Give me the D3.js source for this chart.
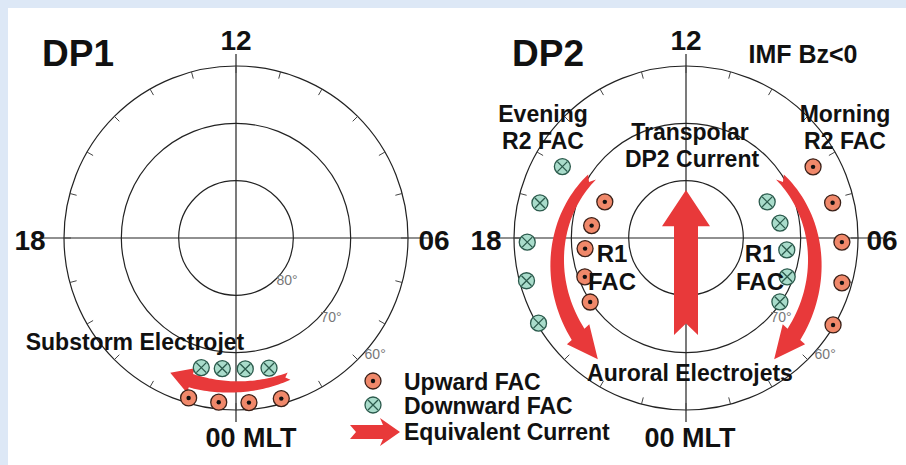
<!DOCTYPE html>
<html><head><meta charset="utf-8">
<script src="https://cdn.jsdelivr.net/npm/d3@7"></script>
<style>body{margin:0;background:#dde8f6}svg{display:block}text{font-family:"Liberation Sans",Arial,sans-serif;font-weight:bold;fill:#111}</style>
</head><body><svg id="c" width="906" height="465"></svg>
<script>
// latitude rings and MLT hours
var rings = [80, 70, 60];
var ringLabels = ["80°", "70°", "60°"];
// FAC positions as [MLT hours, latitude]
var dp1Up = [[22.9, 60.9], [23.6, 61.2], [0.3, 61.2], [1.05, 60.9]];
var dp1Down = [[23.0, 66.6], [23.6, 67.1], [0.27, 67.1], [0.95, 66.6]];
var dp2EveR2 = [[16.0, 65.1], [17.1, 63.8], [18.1, 62.3], [19.0, 61.2], [20.0, 60.3]];
var dp2EveR1 = [[16.4, 74.5], [17.5, 73.4], [18.4, 72.3], [19.4, 71.1], [20.25, 69.9]];
var dp2MorR2 = [[7.95, 64.6], [6.9, 63.7], [5.9, 62.8], [4.93, 61.7], [3.96, 60.2]];
var dp2MorR1 = [[7.6, 74.5], [6.6, 73.4], [5.55, 72.3], [4.6, 71.1], [3.72, 70.2]];

var svg = d3.select("#c");
svg.append("rect").attr("x", 8).attr("y", 8).attr("width", 898).attr("height", 457).attr("fill", "#fff");

var R = 172;
var rScale = d3.scaleLinear().domain([90, 60]).range([0, R]);
var phi = function(mlt) { return (12 - mlt) * Math.PI / 12; };
var red = "#e8393a";

function pos(cx, cy, d) {
    var r = rScale(d[1]), a = phi(d[0]);
    return [cx + r * Math.sin(a), cy - r * Math.cos(a)];
}

function dial(cx, cy, showLabels) {
    var g = svg.append("g");
    rings.forEach(function(l) {
        g.append("circle").attr("cx", cx).attr("cy", cy).attr("r", rScale(l))
         .attr("fill", "none").attr("stroke", "#222").attr("stroke-width", 1.2);
    });
    g.append("line").attr("x1", cx - R - 25).attr("x2", cx + R + 25).attr("y1", cy).attr("y2", cy).attr("stroke", "#222").attr("stroke-width", 1.2);
    g.append("line").attr("x1", cx).attr("x2", cx).attr("y1", cy - R - 12).attr("y2", cy + R + 12).attr("stroke", "#222").attr("stroke-width", 1.2);
    d3.range(24).forEach(function(h) {
        var a = phi(h);
        g.append("line")
         .attr("x1", cx + R * Math.sin(a)).attr("y1", cy - R * Math.cos(a))
         .attr("x2", cx + (R - 7) * Math.sin(a)).attr("y2", cy - (R - 7) * Math.cos(a))
         .attr("stroke", "#444").attr("stroke-width", 1);
    });
    rings.forEach(function(l, i) {
        if (!showLabels[i]) return;
        var r = rScale(l) + 9, a = phi(3.35);
        g.append("text").attr("x", cx + r * Math.sin(a)).attr("y", cy - r * Math.cos(a) + 5)
         .attr("text-anchor", "middle").attr("font-size", 14)
         .style("font-weight", "normal").style("fill", "#777").text(ringLabels[i]);
    });
}

function fac(cx, cy, data, up) {
    data.forEach(function(d) {
        var p = pos(cx, cy, d);
        var g = svg.append("g").attr("transform", "translate(" + p[0] + "," + p[1] + ")");
        g.append("circle").attr("r", 8).attr("fill", up ? "#f0886a" : "#a9dccb")
         .attr("stroke", up ? "#3a2018" : "#2b5a4c").attr("stroke-width", 1.3);
        if (up) g.append("circle").attr("r", 2.2).attr("fill", "#111");
        else g.append("path").attr("d", "M-5,-5L5,5M5,-5L-5,5").attr("stroke", "#2b5a4c").attr("stroke-width", 1.3);
    });
}

// curved arrow along an arc of varying radius, head at the end
function arcArrow(cx, cy, a0, a1, r0, r1, w, hw, hl) {
    var n = 40, inner = [], outer = [];
    var total = Math.abs(a1 - a0) * (r0 + r1) / 2;
    var aHead = a1 - (a1 - a0) * hl / total;
    function pt(a, r) { return [cx + r * Math.sin(a), cy - r * Math.cos(a)]; }
    function rad(a) { return r0 + (r1 - r0) * (a - a0) / (a1 - a0); }
    for (var i = 0; i <= n; i++) {
        var a = a0 + (aHead - a0) * i / n, r = rad(a), ww = w * (0.55 + 0.45 * i / n);
        inner.push(pt(a, r - ww / 2)); outer.push(pt(a, r + ww / 2));
    }
    var rh = rad(aHead);
    var pts = outer.concat([pt(aHead, rh + hw / 2), pt(a1, rad(a1)), pt(aHead, rh - hw / 2)])
        .concat(inner.reverse());
    pts.push(pt(a0 + (aHead - a0) * 0.04, rad(a0)));
    svg.append("path").attr("d", d3.line()(pts) + "Z").attr("fill", red);
}

function label(x, y, t, size, anchor) {
    svg.append("text").attr("x", x).attr("y", y).attr("font-size", size)
       .attr("text-anchor", anchor || "middle").text(t);
}

// DP1
dial(236, 238, [true, true, true]);
arcArrow(236, 238, 159 * Math.PI / 180, 206 * Math.PI / 180, 148, 150, 14, 26, 22);
fac(236, 238, dp1Up, true);
fac(236, 238, dp1Down, false);

// DP2
dial(686, 238, [false, true, true]);
arcArrow(686, 238, -57 * Math.PI / 180, -144 * Math.PI / 180, 112, 150, 17, 30, 28);
arcArrow(686, 238, 57 * Math.PI / 180, 144 * Math.PI / 180, 112, 150, 17, 30, 28);
var ty = d3.scaleLinear().domain([0, 1]).range([335, 190]);
svg.append("path").attr("fill", red).attr("d", d3.line()([
    [674, ty(0)], [686, ty(0.08)], [698, ty(0)], [698, ty(0.75)], [710, ty(0.75)],
    [686, ty(1)], [662, ty(0.75)], [674, ty(0.75)]]) + "Z");
fac(686, 238, dp2EveR2, false);
fac(686, 238, dp2EveR1, true);
fac(686, 238, dp2MorR2, true);
fac(686, 238, dp2MorR1, false);

// texts
label(78, 66, "DP1", 37);
label(236, 50, "12", 28);
label(30, 250, "18", 28);
label(434, 250, "06", 28);
label(251, 447, "00 MLT", 27);
label(135, 350, "Substorm Electrojet", 23);
label(548, 66, "DP2", 37);
label(686, 50, "12", 28);
label(803, 63, "IMF Bz<0", 25);
label(486, 250, "18", 28);
label(882, 250, "06", 28);
label(690, 447, "00 MLT", 27);
label(543, 122, "Evening", 23); label(543, 149, "R2 FAC", 23);
label(845, 122, "Morning", 23); label(845, 149, "R2 FAC", 23);
label(690, 140, "Transpolar", 23); label(692, 167, "DP2 Current", 23);
label(612, 262, "R1", 24); label(612, 290, "FAC", 24);
label(760, 262, "R1", 24); label(760, 290, "FAC", 24);
label(690, 381, "Auroral Electrojets", 23);

// legend
var lg = [[381, true], [405, false]];
lg.forEach(function(d) {
    var g = svg.append("g").attr("transform", "translate(373," + d[0] + ")");
    g.append("circle").attr("r", 8).attr("fill", d[1] ? "#f0886a" : "#a9dccb").attr("stroke", d[1] ? "#3a2018" : "#2b5a4c").attr("stroke-width", 1.3);
    if (d[1]) g.append("circle").attr("r", 2.2).attr("fill", "#111");
    else g.append("path").attr("d", "M-5,-5L5,5M5,-5L-5,5").attr("stroke", "#2b5a4c").attr("stroke-width", 1.3);
});
svg.append("path").attr("fill", red).attr("d", "M350,425L383,425L380,418L400,432L380,446L383,439L350,439L356,432Z");
label(404, 390, "Upward FAC", 23, "start");
label(404, 414, "Downward FAC", 23, "start");
label(404, 440, "Equivalent Current", 23, "start");
</script></body></html>
